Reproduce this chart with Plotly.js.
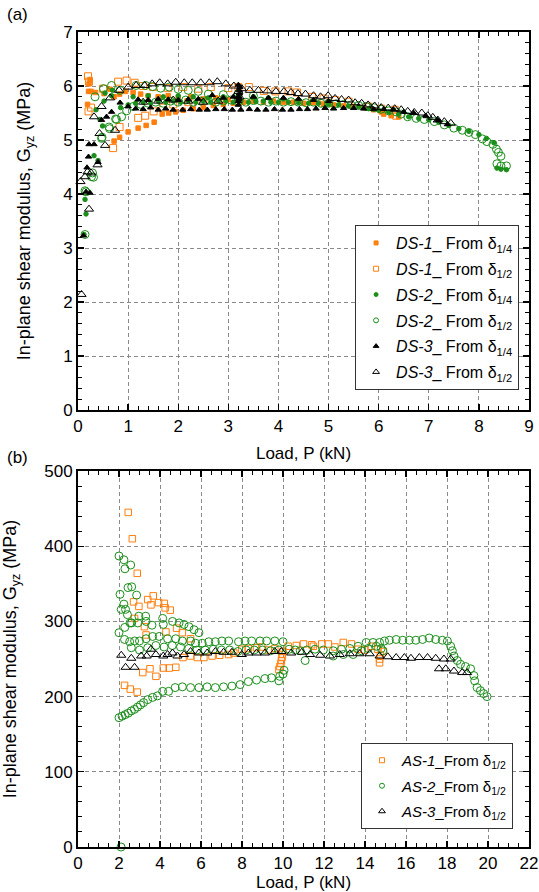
<!DOCTYPE html>
<html>
<head>
<meta charset="utf-8">
<script src="https://cdn.plot.ly/plotly-3.0.1.min.js"></script>
<style>html,body{margin:0;padding:0;background:#fff;}#chart{width:539px;height:892px;}</style>
</head>
<body>
<div id="chart"></div>
<script>
// ---------- Panel (a): DS specimens ----------
var DS1_q_x = [0.19,0.21,0.22,0.24,0.26,0.35,0.52,0.64,0.72,0.83,0.95,1.1,1.25,1.4,1.6,1.8,2.0,2.25,2.5,2.75,3.0,
  0.72,0.83,1.0,1.2,1.36,1.52,1.68,1.81,1.95,2.1,2.3,2.5,2.7,2.9,3.1,3.3,3.5,3.7,3.9,4.1,4.3,4.5,4.7,4.9,5.1,5.3,5.5,5.7,5.9,6.05,6.1,6.25,6.4];
var DS1_q_y = [5.66,5.9,6.04,6.12,5.9,5.88,5.86,5.94,5.8,5.85,5.9,5.88,5.85,5.82,5.8,5.82,5.78,5.8,5.76,5.78,5.75,
  4.98,5.05,5.15,5.22,5.27,5.33,5.48,5.5,5.52,5.55,5.58,5.6,5.64,5.66,5.68,5.7,5.72,5.7,5.72,5.7,5.7,5.68,5.69,5.66,5.65,5.63,5.62,5.6,5.56,5.52,5.48,5.45,5.43];

var DS1_h_x = [0.2,0.22,0.21,0.26,0.5,0.8,0.97,1.13,1.3,1.5,1.8,2.1,2.4,2.65,3.0,3.2,3.41,3.71,3.94,4.2,4.37,4.67,4.9,5.13,5.4,5.79,6.05,6.32,6.35,
  0.7,0.83,1.2,1.34,1.51,1.7,1.9,2.2,2.5,2.8];
var DS1_h_y = [6.18,6.08,5.53,5.6,5.95,6.08,6.1,6.06,6.0,5.98,5.96,5.98,5.95,5.98,5.96,5.98,5.98,5.91,5.9,5.9,5.88,5.8,5.77,5.74,5.71,5.62,5.58,5.56,5.45,
  4.85,5.24,5.41,5.45,5.53,5.6,5.66,5.7,5.72,5.74];

var DS2_q_x = [0.12,0.14,0.16,0.32,0.4,0.36,0.44,0.49,0.54,0.52,0.67,0.69,0.85,1.0,1.15,1.3,1.45,1.6,1.75,1.9,2.05,2.2,2.35,2.5,2.65,2.8,2.95,3.1,3.25,3.4,3.55,3.7,3.85,4.0,4.2,4.4,4.6,4.8,5.0,5.2,5.4,5.6,5.8,6.0,6.2,6.4,6.6,6.8,7.0,7.2,7.4,7.6,7.8,8.0,8.15,8.3,8.36,8.44,8.55,
  1.1,1.4,1.7,2.0,2.3,2.6,2.9,3.2,3.5,3.8,4.1];
var DS2_q_y = [3.25,3.9,3.63,4.71,4.62,5.56,5.38,5.26,5.87,5.72,5.82,5.92,5.6,5.65,5.68,5.7,5.68,5.72,5.7,5.72,5.7,5.73,5.7,5.72,5.7,5.73,5.72,5.7,5.72,5.7,5.71,5.72,5.7,5.7,5.7,5.69,5.68,5.68,5.66,5.65,5.63,5.62,5.58,5.55,5.52,5.48,5.43,5.4,5.37,5.33,5.27,5.21,5.16,5.1,5.03,4.95,4.48,4.46,4.45,
  5.8,5.82,5.8,5.82,5.8,5.78,5.8,5.82,5.8,5.78,5.76];

var DS2_h_x = [0.14,0.14,0.16,0.29,0.31,0.27,0.47,0.48,0.62,0.63,0.75,0.77,0.87,0.97,0.34,0.51,0.67,0.84,1.16,1.35,1.49,1.65,1.82,2.0,2.2,2.4,
  1.1,1.25,1.4,1.55,1.7,1.85,2.0,2.15,2.3,2.45,2.6,2.75,2.9,3.05,3.2,3.35,3.5,3.65,3.8,3.95,4.1,4.25,4.4,4.55,4.7,4.85,5.0,5.15,5.3,5.45,5.6,5.75,5.9,6.05,6.2,6.35,6.45,6.58,6.75,6.91,7.11,7.31,7.5,7.67,7.8,7.93,8.07,8.16,8.28,8.35,8.39,8.44,8.36,8.44,8.55,
  2.6,2.9,3.2,3.5];
var DS2_h_y = [3.25,4.06,4.04,4.39,4.31,4.32,5.03,5.05,5.24,5.21,5.39,5.38,5.43,5.54,5.8,5.95,6.01,5.92,6.01,6.01,5.99,5.96,5.98,5.94,5.92,5.9,
  5.62,5.66,5.68,5.7,5.68,5.72,5.7,5.74,5.7,5.72,5.74,5.7,5.72,5.74,5.72,5.7,5.73,5.72,5.7,5.72,5.7,5.71,5.7,5.69,5.7,5.68,5.68,5.67,5.66,5.65,5.64,5.62,5.6,5.57,5.54,5.52,5.48,5.43,5.4,5.38,5.34,5.28,5.22,5.18,5.14,5.1,5.02,4.97,4.92,4.83,4.77,4.7,4.56,4.52,4.52,
  5.85,5.84,5.86,5.82];

var DS3_q_x = [0.11,0.16,0.18,0.21,0.22,0.24,0.32,0.4,0.47,0.57,0.67,0.84,1.0,1.15,1.3,1.45,1.6,1.75,1.9,2.09,2.25,2.42,2.58,2.75,2.92,3.08,3.25,3.42,3.58,3.75,3.92,4.08,4.25,4.42,4.58,4.75,4.93,5.1,5.3,5.5,5.7,5.9,6.1,6.3,6.5,6.7,6.94,7.18,7.37,
  1.2,1.4,1.6,1.8,2.0,2.2,2.4,2.68,2.9,3.1,3.2,3.2,3.21,3.22,3.22,3.23,3.2,3.21,3.5,3.8,4.1,4.4,4.7,5.0];
var DS3_q_y = [3.23,4.04,4.49,4.69,4.92,4.02,4.92,4.59,5.37,5.43,5.52,5.69,5.62,5.58,5.57,5.6,5.56,5.58,5.56,5.56,5.57,5.56,5.56,5.57,5.57,5.56,5.56,5.57,5.56,5.56,5.57,5.56,5.56,5.57,5.57,5.58,5.59,5.58,5.59,5.59,5.58,5.57,5.57,5.56,5.52,5.5,5.45,5.37,5.29,
  5.75,5.74,5.76,5.75,5.74,5.75,5.76,5.83,5.78,5.8,5.65,5.72,5.8,5.86,5.92,5.98,6.02,5.76,5.8,5.78,5.78,5.76,5.74,5.72];

var DS3_h_x = [0.05,0.07,0.14,0.19,0.22,0.26,0.39,0.54,0.43,0.74,0.32,0.47,0.64,0.82,1.0,1.16,1.33,1.48,1.63,1.79,1.95,2.12,2.28,2.45,2.62,2.78,2.95,3.11,3.2,3.22,3.27,3.43,3.6,3.78,3.95,4.11,4.25,4.39,4.54,4.7,4.84,4.99,5.13,5.26,5.4,5.53,5.66,5.79,5.92,6.05,6.19,6.32,6.45,6.58,6.71,6.86,6.98,7.08,7.18,7.31,7.44,
  1.3,1.6,1.9,2.2,2.5,2.8];
var DS3_h_y = [4.23,2.14,4.32,4.41,3.72,4.39,4.54,4.9,5.12,5.18,5.43,5.62,5.78,5.92,5.98,6.01,6.01,6.04,6.06,6.04,6.07,6.06,6.06,6.06,6.06,6.08,6.04,6.0,5.9,5.8,5.95,5.92,5.92,5.91,5.9,5.9,5.88,5.86,5.85,5.82,5.8,5.82,5.77,5.75,5.74,5.69,5.68,5.65,5.63,5.6,5.59,5.58,5.56,5.53,5.51,5.5,5.45,5.42,5.37,5.34,5.31,
  5.7,5.72,5.74,5.72,5.7,5.72];

// ---------- Panel (b): AS specimens ----------
var AS1_x = [2.45,2.65,2.89,2.71,2.97,3.4,3.67,3.56,3.93,4.21,4.25,4.5,2.76,3.24,3.32,4.29,5.09,5.49,4.81,2.27,2.55,2.89,3.16,3.51,3.8,4.16,4.45,4.77,
  5.12,5.49,5.82,6.14,6.54,6.91,7.35,7.6,7.99,8.31,8.71,8.96,9.3,9.6,9.8,9.85,9.9,9.92,9.95,9.97,10.0,10.25,10.65,11.0,11.4,11.48,11.89,12.21,12.53,12.94,13.34,13.66,13.98,14.31,14.63,14.71,14.71,14.75,14.9];
var AS1_y = [445,410,364,326,320,329,334,322,325,324,318,315,304,293,282,286,285,277,291,215,210,206,232,237,227,238,238,239,
  252,254,252,252,254,255,256,258,263,264,265,266,262,264,236,240,244,248,252,256,260,267,268,270,269,267,270,270,266,272,270,263,262,267,263,250,245,255,260];

var AS2_x = [2.0,2.24,2.29,2.57,2.44,2.62,2.05,2.86,2.24,2.11,2.32,2.41,2.54,2.62,2.97,3.3,2.28,2.0,2.92,3.32,3.61,4.13,4.16,4.61,4.93,5.17,5.41,5.66,5.9,
  2.27,2.52,2.76,3.0,3.32,3.64,3.96,4.37,4.77,5.09,5.49,5.74,6.06,6.38,6.7,7.02,7.35,7.83,8.15,8.47,8.88,9.2,9.6,10.0,
  2.6,3.0,3.4,3.8,4.2,4.6,5.0,5.4,5.8,6.2,6.6,7.0,7.4,7.8,8.2,8.6,9.0,9.4,9.8,10.3,10.6,
  2.0,2.15,2.3,2.45,2.6,2.75,2.9,3.05,3.2,3.4,3.64,3.88,4.13,4.42,4.74,5.09,5.49,5.9,6.3,6.7,7.1,7.51,7.91,8.31,8.71,9.12,9.44,9.84,10.0,9.8,10.05,
  10.84,11.16,11.08,11.56,11.97,12.45,12.85,13.26,13.66,14.06,14.39,14.71,14.95,15.19,15.52,15.84,16.16,16.48,16.81,17.13,17.45,17.77,18.02,18.18,18.26,18.34,18.5,18.66,18.9,19.15,19.31,19.35,19.47,19.63,19.79,19.95,
  12.45,12.94,13.42,13.82,14.15,14.55,14.79,14.87,2.1];
var AS2_y = [387,382,370,375,345,346,336,335,323,316,316,309,298,298,307,307,292,285,298,300,295,304,296,300,298,296,293,289,285,
  276,273,274,274,277,280,280,277,277,274,274,271,271,273,273,274,274,273,274,274,274,274,274,273,
  265,262,265,268,266,268,266,264,262,262,263,262,262,260,262,262,262,261,262,263,262,
  172,174,176,178,181,183,186,189,192,196,199,201,207,207,212,213,212,212,213,212,213,214,216,220,222,224,225,227,230,221,235,
  261,262,248,263,262,261,263,264,267,272,272,272,274,275,276,275,275,275,276,278,276,275,274,267,261,254,248,243,240,237,228,221,212,208,204,200,
  254,256,256,261,264,267,264,261,0];

var AS3_x = [2.11,2.32,2.6,2.76,3.08,3.35,3.56,3.8,4.16,4.37,4.61,4.85,5.17,5.49,5.9,6.3,6.7,7.1,7.51,7.99,8.31,8.71,9.12,9.6,9.92,10.4,10.92,11.32,11.81,12.29,12.77,13.26,13.74,14.23,14.71,15.11,15.52,15.92,16.24,16.65,17.05,17.45,17.85,18.18,17.61,17.94,18.34,18.74,18.98];
var AS3_y = [255,239,251,239,254,254,263,256,254,256,258,254,256,260,258,258,260,259,259,256,258,258,258,260,260,258,259,256,255,254,256,257,257,257,254,253,252,252,251,252,252,251,250,250,237,237,234,232,232];

// legend labels
var LEG_A = ['<i>DS-1</i>_ From δ<sub>1/4</sub>', '<i>DS-1</i>_ From δ<sub>1/2</sub>',
             '<i>DS-2</i>_ From δ<sub>1/4</sub>', '<i>DS-2</i>_ From δ<sub>1/2</sub>',
             '<i>DS-3</i>_ From δ<sub>1/4</sub>', '<i>DS-3</i>_ From δ<sub>1/2</sub>'];
var LEG_B = ['<i>AS-1</i>_From δ<sub>1/2</sub>', '<i>AS-2</i>_From δ<sub>1/2</sub>', '<i>AS-3</i>_From δ<sub>1/2</sub>'];

// ---------- styles ----------
var ORANGE = '#FF7F0E', GREEN = '#1A8F1A', BLACK = '#000000';
function mk(x, y, name, symbol, color, size, xa, ya, leg, legSize, grp) {
  // data trace (no legend) + legend-only twin with the small legend symbol
  var t = {
    x: x, y: y, name: name, type: 'scatter', mode: 'markers', cliponaxis: false,
    xaxis: xa, yaxis: ya, showlegend: false, legendgroup: grp,
    marker: {symbol: symbol, color: color, size: size, line: {color: color, width: 1}}
  };
  var l = {
    x: [null], y: [null], name: name, type: 'scatter', mode: 'markers',
    xaxis: xa, yaxis: ya, legend: leg, legendgroup: grp, showlegend: true,
    marker: {symbol: symbol, color: color, size: legSize, line: {color: color, width: 1}}
  };
  return [t, l];
}
var data = [].concat(
  mk(DS1_q_x, DS1_q_y, LEG_A[0], 'square', ORANGE, 4.5, 'x', 'y', 'legend', 4, 'a1'),
  mk(DS1_h_x, DS1_h_y, LEG_A[1], 'square-open', ORANGE, 7, 'x', 'y', 'legend', 5, 'a2'),
  mk(DS2_q_x, DS2_q_y, LEG_A[2], 'circle', GREEN, 4.5, 'x', 'y', 'legend', 4, 'a3'),
  mk(DS2_h_x, DS2_h_y, LEG_A[3], 'circle-open', GREEN, 8, 'x', 'y', 'legend', 5, 'a4'),
  mk(DS3_q_x, DS3_q_y, LEG_A[4], 'triangle-up', BLACK, 5.5, 'x', 'y', 'legend', 5, 'a5'),
  mk(DS3_h_x, DS3_h_y, LEG_A[5], 'triangle-up-open', BLACK, 8, 'x', 'y', 'legend', 6, 'a6'),
  mk(AS1_x, AS1_y, LEG_B[0], 'square-open', ORANGE, 6.5, 'x2', 'y2', 'legend2', 5, 'b1'),
  mk(AS2_x, AS2_y, LEG_B[1], 'circle-open', GREEN, 8, 'x2', 'y2', 'legend2', 5, 'b2'),
  mk(AS3_x, AS3_y, LEG_B[2], 'triangle-up-open', BLACK, 8, 'x2', 'y2', 'legend2', 6, 'b3')
);

function axis(extra) {
  var a = {
    showline: true, linecolor: 'black', linewidth: 2, mirror: 'ticks',
    ticks: 'inside', ticklen: 6, tickwidth: 1.3, tickcolor: 'black',
    showgrid: true, gridcolor: '#8a8a8a', griddash: '4px,3px', gridwidth: 1,
    zeroline: false, tickfont: {size: 17, color: 'black'},
    fixedrange: true
  };
  for (var k in extra) a[k] = extra[k];
  return a;
}
var XT_FONT = {size: 17, color: 'black'};
var YT_FONT = {size: 18, color: 'black'};
function minor(d) { return {ticks: 'inside', ticklen: 4, tickwidth: 1, dtick: d, tickcolor: 'black', showgrid: false}; }
var layout = {
  width: 539, height: 892,
  margin: {l: 78, r: 10, t: 32, b: 45},
  paper_bgcolor: 'white', plot_bgcolor: 'white',
  font: {family: 'Liberation Sans, Arial, sans-serif', size: 16, color: 'black'},
  showlegend: true,
  xaxis: axis({domain: [0, 1], range: [0, 9], dtick: 1, tick0: 0, anchor: 'y', minor: minor(0.2),
    title: {text: 'Load, P (kN)', font: XT_FONT, standoff: 12}}),
  yaxis: axis({domain: [0.5362, 1], range: [0, 7], dtick: 1, tick0: 0, anchor: 'x', minor: minor(0.2),
    title: {text: 'In-plane shear modulus, G<sub>yz</sub> (MPa)', font: YT_FONT, standoff: 28}}),
  xaxis2: axis({domain: [0, 1], range: [0, 22], dtick: 2, tick0: 0, anchor: 'y2', minor: minor(0.5),
    title: {text: 'Load, P (kN)', font: XT_FONT, standoff: 2}}),
  yaxis2: axis({domain: [0, 0.4613], range: [0, 500], dtick: 100, tick0: 0, anchor: 'x2', minor: minor(20),
    title: {text: 'In-plane shear modulus, G<sub>yz</sub> (MPa)', font: YT_FONT, standoff: 28}}),
  legend: {x: 0.978, xanchor: 'right', y: 0.5607, yanchor: 'bottom', bgcolor: 'white',
    bordercolor: '#333', borderwidth: 1, font: {size: 16, color: 'black'}, tracegroupgap: 2},
  legend2: {x: 0.9645, xanchor: 'right', y: 0.0221, yanchor: 'bottom', bgcolor: 'white',
    bordercolor: '#333', borderwidth: 1, font: {size: 15, color: 'black'}, tracegroupgap: 3},
  annotations: [
    {text: '(a)', xref: 'paper', yref: 'paper', x: -0.135, y: 1.0209, xanchor: 'center', yanchor: 'middle', showarrow: false, font: {size: 17}},
    {text: '(b)', xref: 'paper', yref: 'paper', x: -0.135, y: 0.478, xanchor: 'center', yanchor: 'middle', showarrow: false, font: {size: 17}}
  ]
};
Plotly.newPlot('chart', data, layout, {displayModeBar: false, staticPlot: true});
</script>
</body>
</html>
